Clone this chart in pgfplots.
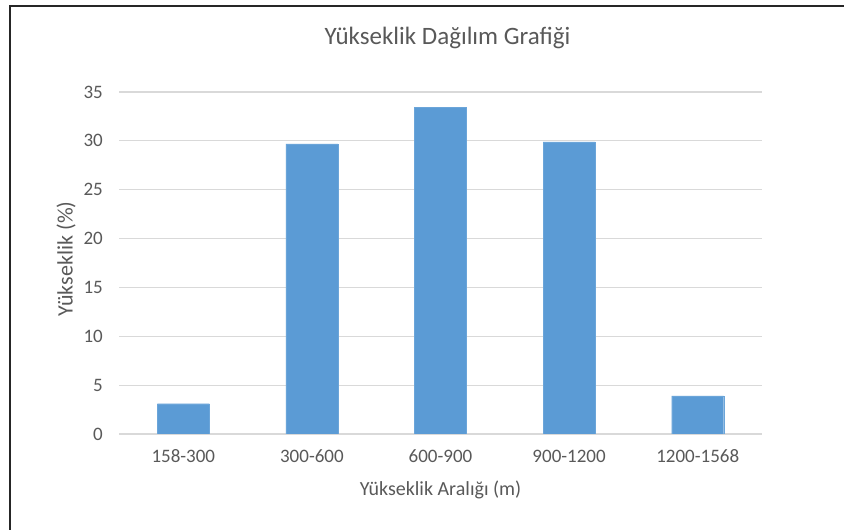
\documentclass[border=0pt]{standalone}
\usepackage{fontspec}
\setmainfont{Carlito}
\usepackage{pgfplots}
\pgfplotsset{compat=1.18}
\definecolor{barblue}{HTML}{5B9BD5}
\definecolor{txtgray}{HTML}{595959}
\definecolor{gridgray}{HTML}{D9D9D9}
\begin{document}
\begin{tikzpicture}[x=1pt,y=1pt]
\useasboundingbox (0,0) rectangle (844,530);
\fill[white] (0,0) rectangle (844,530);
\draw[line width=2pt, black!85] (10,0) -- (10,524) -- (844,524);
\begin{axis}[
  at={(119pt,96pt)}, anchor=south west,
  scale only axis, width=643pt, height=342pt,
  ymin=0, ymax=35, xmin=-0.5, xmax=4.5,
  ytick={0,5,...,35},
  xtick={0,...,4},
  xticklabels={158-300,300-600,600-900,900-1200,1200-1568},
  axis line style={draw=none},
  tick style={draw=none},
  ymajorgrids, grid style={gridgray, line width=1.2pt},
  /pgf/number format/assume math mode=true,
  ticklabel style={font=\fontsize{19}{21}\selectfont, text=txtgray, inner sep=0pt},
  yticklabel style={anchor=east, xshift=-16pt},
  xticklabel style={anchor=base, yshift=-29pt},
  title={Yükseklik Dağılım Grafiği},
  title style={at={(axis description cs:0.5,1)}, anchor=base, yshift=41pt, xshift=7pt, font=\fontsize{25}{28}\selectfont, text=txtgray, inner sep=0pt},
  xlabel={Yükseklik Aralığı (m)},
  xlabel style={at={(axis description cs:0.5,0)}, anchor=base, yshift=-62pt, font=\fontsize{20}{22}\selectfont, text=txtgray, inner sep=0pt},
  ylabel={Yükseklik (\%)},
  ylabel style={at={(axis description cs:-0.0824,0.512)}, anchor=center, font=\fontsize{22}{24}\selectfont, text=txtgray, inner sep=0pt},
]
\addplot[ybar, bar width=52pt, fill=barblue, draw=barblue!90!white] coordinates {(0,3.1) (1,29.7) (2,33.4) (3,29.9) (4,3.9)};
\end{axis}
\end{tikzpicture}
\end{document}
